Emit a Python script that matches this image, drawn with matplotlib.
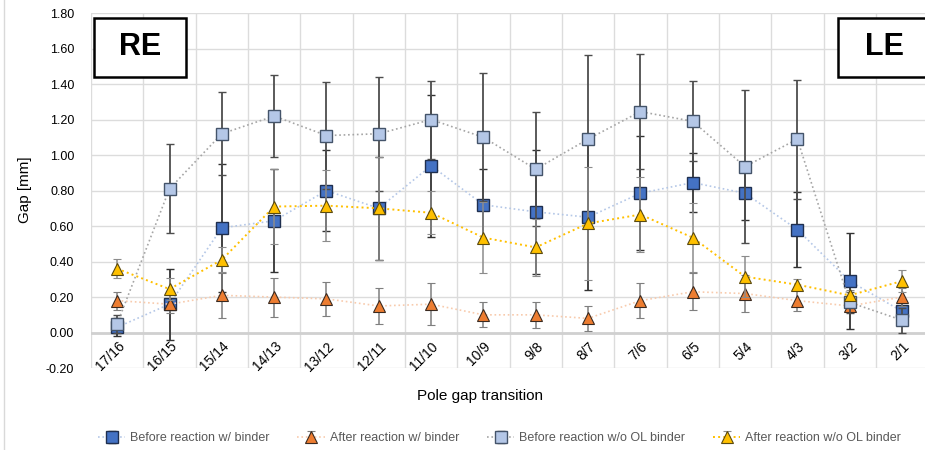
import matplotlib
matplotlib.use("Agg")
import matplotlib.pyplot as plt
from matplotlib.patches import Rectangle
from matplotlib.lines import Line2D

plt.rcParams['font.family'] = ['Liberation Sans', 'DejaVu Sans']

labels = ["17/16", "16/15", "15/14", "14/13", "13/12", "12/11", "11/10", "10/9",
          "9/8", "8/7", "7/6", "6/5", "5/4", "4/3", "3/2", "2/1"]

before_bind = [0.03, 0.16, 0.59, 0.63, 0.80, 0.70, 0.94, 0.72,
               0.68, 0.65, 0.785, 0.845, 0.785, 0.58, 0.29, 0.12]
before_bind_err = [0.05, 0.20, 0.36, 0.29, 0.23, 0.29, 0.40, 0.20,
                   0.35, 0.41, 0.32, 0.165, 0.15, 0.21, 0.27, 0.05]

after_bind = [0.18, 0.16, 0.21, 0.20, 0.19, 0.15, 0.16, 0.10,
              0.10, 0.08, 0.18, 0.23, 0.22, 0.18, 0.15, 0.20]
after_bind_err = [0.05, 0.05, 0.125, 0.11, 0.095, 0.10, 0.12, 0.07,
                  0.075, 0.07, 0.10, 0.105, 0.105, 0.06, 0.03, 0.05]

before_nobind = [0.05, 0.81, 1.12, 1.22, 1.11, 1.12, 1.20, 1.10,
                 0.92, 1.09, 1.245, 1.19, 0.935, 1.09, 0.17, 0.07]
before_nobind_err = [0.05, 0.25, 0.235, 0.23, 0.30, 0.32, 0.22, 0.36,
                     0.32, 0.475, 0.325, 0.225, 0.43, 0.335, 0.06, 0.07]

after_nobind = [0.36, 0.245, 0.41, 0.71, 0.715, 0.70, 0.675, 0.535,
                0.48, 0.615, 0.665, 0.535, 0.315, 0.27, 0.21, 0.29]
after_nobind_err = [0.055, 0.06, 0.07, 0.21, 0.20, 0.29, 0.12, 0.20,
                    0.16, 0.32, 0.21, 0.195, 0.115, 0.03, 0.03, 0.06]

yticks = [-0.2, 0.0, 0.2, 0.4, 0.6, 0.8, 1.0, 1.2, 1.4, 1.6, 1.8]

x = list(range(len(labels)))

fig = plt.figure(figsize=(9.25, 4.5), dpi=100)
ax = fig.add_axes([0.0984, 0.182, 0.905, 0.789])

ax.errorbar(x, before_bind, yerr=before_bind_err, ls=':', color='#B4C7E7', lw=1.2,
            marker='s', ms=8.5, mfc='#4472C4', mec='#1F2F4F', mew=1.0,
            ecolor='#333333', elinewidth=1.3, capsize=3, capthick=1.2,
            label='Before reaction w/ binder', zorder=3)
ax.errorbar(x, after_bind, yerr=after_bind_err, ls=':', color='#F8CBAD', lw=1.2,
            marker='^', ms=9, mfc='#ED7D31', mec='#3a2a20', mew=0.8,
            ecolor='#7f7f7f', elinewidth=1.1, capsize=3, capthick=1.0,
            label='After reaction w/ binder', zorder=4)
ax.errorbar(x, before_nobind, yerr=before_nobind_err, ls=':', color='#A5A5A5', lw=1.2,
            marker='s', ms=8.5, mfc='#B4C7E7', mec='#44546A', mew=1.0,
            ecolor='#4d4d4d', elinewidth=1.3, capsize=3, capthick=1.2,
            label='Before reaction w/o OL binder', zorder=5)
ax.errorbar(x, after_nobind, yerr=after_nobind_err, ls=':', color='#FFC000', lw=1.4,
            marker='^', ms=9, mfc='#FFC000', mec='#5a4a10', mew=0.8,
            ecolor='#8c8c8c', elinewidth=1.1, capsize=3, capthick=1.0,
            label='After reaction w/o OL binder', zorder=6)

ax.set_xlim(-0.5, len(labels) - 0.5)
ax.set_ylim(-0.2, 1.8)
ax.set_yticks(yticks)
ax.set_yticklabels(["%.2f" % v for v in yticks], fontsize=9)
ax.set_xticks([i - 0.5 for i in range(len(labels) + 1)])
ax.set_xticklabels([])
ax.tick_params(axis='both', length=0)
ax.tick_params(axis='y', pad=12)
ax.grid(True, color='#dcdcdc', lw=1.0)
ax.set_axisbelow(True)
ax.axhline(0, color='#d0d0d0', lw=2.0, zorder=1)
for s in ax.spines.values():
    s.set_visible(False)

# category labels sit just under the zero line
for i, lab in enumerate(labels):
    ax.text(i + 0.1, -0.065, lab, rotation=45, ha='right', va='center', fontsize=10,
            rotation_mode='anchor', clip_on=False, zorder=2)

fig.text(480 / 925, 1 - 396 / 450, "Pole gap transition", fontsize=11, ha='center', va='center')
fig.text(25 / 925, 1 - 190 / 450, "Gap [mm]", fontsize=11, ha='center', va='center', rotation=90)

# faint chart-area border on the left
fig.add_artist(Line2D([4 / 925, 4 / 925], [0, 1], transform=fig.transFigure,
                      color='#d9d9d9', lw=1.0))

for x0, x1, lab in [(0.0036, 0.1135, "RE"), (0.8925, 1.003, "LE")]:
    ax.add_patch(Rectangle((x0, 0.820), x1 - x0, 0.166, transform=ax.transAxes,
                           fc='white', ec='black', lw=1.8, zorder=8, clip_on=False))
x_re = (140 - 91) / 837
x_le = (884 - 91) / 837
ax.text(x_re, 0.903, "RE", transform=ax.transAxes, fontsize=22, fontweight='bold',
        ha='center', va='center', zorder=9)
ax.text(x_le, 0.903, "LE", transform=ax.transAxes, fontsize=22, fontweight='bold',
        ha='center', va='center', zorder=9)

leg = fig.legend(loc='center', bbox_to_anchor=(0.54, 0.026), ncol=4, frameon=False,
                 fontsize=9, handlelength=2.2, columnspacing=2.2, handletextpad=0.4)
for t in leg.get_texts():
    t.set_color('#595959')

fig.savefig("out.png", dpi=100)
